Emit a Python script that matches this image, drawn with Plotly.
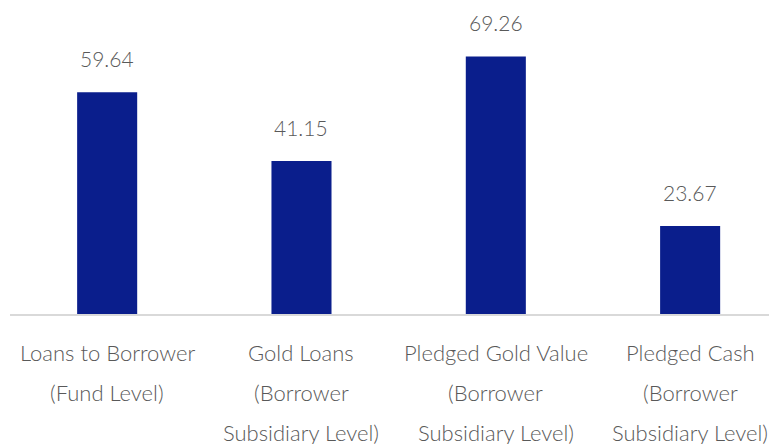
import plotly.graph_objects as go

categories = [
    ["Loans to Borrower", "(Fund Level)"],
    ["Gold Loans", "(Borrower", "Subsidiary Level)"],
    ["Pledged Gold Value", "(Borrower", "Subsidiary Level)"],
    ["Pledged Cash", "(Borrower", "Subsidiary Level)"],
]
values = [59.64, 41.15, 69.26, 23.67]
value_labels = ["59.64", "41.15", "69.26", "23.67"]

FONT = "Lato"
TXT = "#595959"
BAR = "#0a1e8c"

xs = list(range(len(values)))
fig = go.Figure(go.Bar(x=xs, y=values, width=0.309, marker=dict(color=BAR, line=dict(width=0)),
                       hoverinfo="skip"))

ann = []
for i, v in enumerate(values):
    ann.append(dict(x=i, y=v, xref="x", yref="y", text=value_labels[i], showarrow=False,
                    yanchor="middle", yshift=34,
                    font=dict(family=FONT, size=21, color=TXT, weight=300)))
    for j, line in enumerate(categories[i]):
        ann.append(dict(x=i, y=0, xref="x", yref="y", text=line, showarrow=False,
                        yanchor="middle", yshift=-38 - 40 * j,
                        font=dict(family=FONT, size=22, color=TXT, weight=300)))

fig.update_layout(
    width=769, height=436,
    margin=dict(l=2, r=0, t=0, b=130),
    paper_bgcolor="white", plot_bgcolor="white",
    showlegend=False,
    xaxis=dict(range=[-0.5, 3.447], showticklabels=False, showgrid=False, zeroline=False,
               showline=True, linecolor="#d9d9d9", linewidth=2, ticks=""),
    yaxis=dict(range=[0, 82.32], visible=False, showgrid=False, zeroline=False),
    annotations=ann,
)

fig.write_html("out.html")
